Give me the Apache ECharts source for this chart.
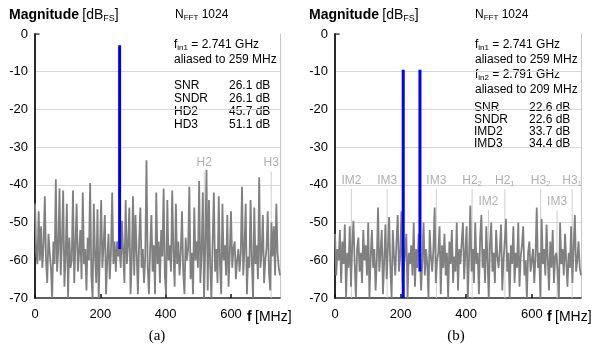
<!DOCTYPE html>
<html>
<head>
<meta charset="utf-8">
<script src="https://cdn.jsdelivr.net/npm/echarts@6/dist/echarts.min.js"></script>
<style>html,body{margin:0;padding:0;background:#fff}#c{width:598px;height:352px}</style>
</head>
<body>
<div id="c"></div>
<script>
// ---- data ----
const STEP = 3.75; // MHz between plotted spectrum points
const xTicks = [0, 200, 400, 600];
const yTicks = [0, -10, -20, -30, -40, -50, -60, -70];

const noiseA = [
-45,-58,-61,-47,-60,-51,-62,-56,-43,-60,
-66,-53,-58,-62,-70,-55,-61,-38.5,-63,-57,
-41,-64,-55,-41.5,-67,-59,-45,-70,-54,-62,
-60,-41.5,-66,-56,-45,-63,-58,-52,-65,-42,
-61,-57,-68,-54,-60,-39.5,-64,-70,-45,-59,
-66,-46.5,-70,-58,-44,-62,-56,-48,-69,-60,
-53,-65,-58,-42,-61,-55,-63,-55,-59,-57,
-62,-49.5,-58,-66,-44,-61,-56,-46,-69,-60,
-43,-64,-48,-58,-69,-55,-46,-62,-57,-66,
-59,-33.5,-62,-69,-57,-48,-63,-56,-69,-42,
-61,-55,-66,-52,-59,-41,-64,-69,-44,-60,
-56,-63,-41.5,-58,-67,-45,-61,-55,-64,-58,
-47,-63,-69,-54,-60,-57,-40.5,-65,-58,-69,
-46,-60,-55,-62,-39,-66,-58,-42,-70,-56,
-36,-68,-44,-61,-70,-55,-42,-63,-57,-66,
-43,-61,-69,-45,-60,-56,-64,-48,-67,-58,
-47,-62,-57,-55,-65,-60,-57,-63,-58,-40.5,
-64,-57,-45,-69,-59,-62,-44,-60,-70,-46,
-61,-56,-65,-38,-62,-58,-48,-66,-60,-57,
-47,-63,-68,-50,-59,-51,-64,-45,-58,-62,
-64];

const noiseB = [
-53,-64,-57,-60,-52,-66,-55,-61,-50.5,-70,
-58,-62,-51,-67,-56,-49.5,-61,-70,-57,-54,
-63,-58,-66,-52,-60,-56,-64,-50,-70,-59,
-52,-62,-57,-68,-60,-46,-63,-58,-52,-69,
-60,-50.5,-65,-57,-48.5,-62,-70,-52,-59,-64,
-55,-48,-63,-59,-47,-66,-62,-58,-53,-70,
-58,-61,-56,-64,-50,-67,-57,-62,-53,-59,
-68,-60,-50,-64,-57,-61,-70,-52,-59,-63,
-57,-46,-66,-60,-58,-51,-69,-56,-62,-53,
-64,-58,-70,-55,-61,-52,-66,-59,-63,-50,
-68,-57,-61,-55,-50,-65,-58,-51,-70,-59,
-45.5,-63,-57,-66,-50,-61,-58,-69,-54,-48,
-62,-57,-66,-51,-60,-70,-56,-50,-63,-58,
-66,-52,-59,-62,-57,-50.5,-68,-60,-55,-49,
-63,-58,-70,-56,-61,-51,-66,-58,-62,-50,
-67,-59,-56,-51,-64,-60,-70,-58,-55,-63,
-60,-57,-66,-59,-46,-62,-58,-70,-49,-61,
-57,-64,-50.5,-60,-68,-55,-62,-52,-66,-59,
-58,-63,-70,-50,-61,-57,-64,-53,-60,-67,
-58,-62,-51,-66,-57,-48,-63,-60,-55,-62,
-64];

// tones (aliased input frequencies)
const toneFreqA = [259];
const toneTopA = [-3];
const toneBotA = [-57];
const toneFreqB = [208, 259];
const toneTopB = [-9.5, -9.5];
const toneBotB = [-70, -63];

// spur markers
const markNameA = ['H2', 'H3'];
const markSubA = ['', ''];
const markFreqA = [518, 723];
const markLevelA = [-34.2, -34.2];

const markNameB = ['IM2', 'IM3', 'IM3', 'H2', 'H2', 'H3', 'H3', 'IM2', 'IM3'];
const markSubB = ['', '', '', '2', '1', '2', '1', '', ''];
const markFreqB = [50, 159, 309, 418, 518, 627, 723, 468, 677];
const markLevelB = [-38.8, -38.8, -38.8, -38.8, -38.8, -38.8, -38.8, -44.4, -44.4];

// ---- chart ----
const FONT = '"Liberation Sans", Arial, sans-serif';
const chart = echarts.init(document.getElementById('c'), null, {renderer: 'canvas'});

function xAxisFor(g) {
  return {
    type: 'value', gridIndex: g, min: 0, max: 750, interval: 200,
    axisLine: {onZero: false, lineStyle: {color: '#2a2a2a', width: 1.5}},
    axisTick: {inside: true, length: 4, lineStyle: {color: '#111', width: 1.5}},
    axisLabel: {color: '#000', fontSize: 13, fontFamily: FONT, margin: 10, showMaxLabel: false,
      formatter: v => xTicks.includes(v) ? String(v) : ''},
    splitLine: {show: false}
  };
}
function yAxisFor(g) {
  return {
    type: 'value', gridIndex: g, min: -70, max: 0, interval: 10,
    axisLine: {show: true, onZero: false, lineStyle: {color: '#2a2a2a', width: 2}},
    axisTick: {show: false},
    axisLabel: {color: '#000', fontSize: 13, fontFamily: FONT, margin: 7,
      formatter: v => yTicks.includes(v) ? String(v) : ''},
    splitLine: {show: true, showMinLine: false, showMaxLine: false, lineStyle: {color: '#d6d6d6', width: 1}}
  };
}
function borderAxis(g) {
  return {
    type: 'value', gridIndex: g, position: 'right', min: -70, max: 0,
    axisLine: {show: true, onZero: false, lineStyle: {color: '#c8c8c8', width: 1}},
    axisTick: {show: false}, axisLabel: {show: false}, splitLine: {show: false}
  };
}

const series = [];
function addPanel(g, noise, tf, tt, tb, mn, ms, mf, ml) {
  const xi = g, yi = g * 2;
  // marker lines (under the noise)
  mf.forEach((f, k) => {
    series.push({
      type: 'line', xAxisIndex: xi, yAxisIndex: yi, silent: true, symbol: 'none', z: 1,
      lineStyle: {color: '#cfcfcf', width: 1},
      data: [[f, ml[k] - 2.3], [f, -70]]
    });
  });
  // spectrum noise
  series.push({
    type: 'line', xAxisIndex: xi, yAxisIndex: yi, symbol: 'none', silent: true, z: 2,
    lineStyle: {color: '#808080', width: 1.8},
    data: noise.map((v, i) => [i * STEP, v])
  });
  // tones
  tf.forEach((f, k) => {
    series.push({
      type: 'line', xAxisIndex: xi, yAxisIndex: yi, symbol: 'none', silent: true, z: 3,
      lineStyle: {color: '#0000ff', width: 3},
      data: [[f, tb[k]], [f, tt[k]]]
    });
  });
  // top tick at 0 dB
  series.push({
    type: 'line', xAxisIndex: xi, yAxisIndex: yi, symbol: 'none', silent: true, z: 3,
    lineStyle: {color: '#2a2a2a', width: 1.5},
    data: [[0, 0], [14, 0]]
  });
  // marker labels
  series.push({
    type: 'scatter', xAxisIndex: xi, yAxisIndex: yi, silent: true, z: 4,
    symbolSize: 1, itemStyle: {color: 'rgba(0,0,0,0)'},
    data: mf.map((f, k) => ({value: [f, ml[k]]})),
    label: {
      show: true, position: 'inside',
      formatter: p => ms[p.dataIndex] ? '{n|' + mn[p.dataIndex] + '}{s|' + ms[p.dataIndex] + '}' : '{n|' + mn[p.dataIndex] + '}',
      rich: {
        n: {fontSize: 12, color: '#9a9a9a', fontFamily: FONT, lineHeight: 14},
        s: {fontSize: 8, color: '#9a9a9a', fontFamily: FONT, lineHeight: 6, verticalAlign: 'bottom'}
      }
    }
  });
}
addPanel(0, noiseA, toneFreqA, toneTopA, toneBotA, markNameA, markSubA, markFreqA, markLevelA);
addPanel(1, noiseB, toneFreqB, toneTopB, toneBotB, markNameB, markSubB, markFreqB, markLevelB);

const RICH = {
  b: {fontSize: 14, fontWeight: 'bold', color: '#000', fontFamily: FONT, lineHeight: 16},
  n: {fontSize: 14, color: '#000', fontFamily: FONT, lineHeight: 16},
  t: {fontSize: 12, color: '#000', fontFamily: FONT, lineHeight: 14},
  s: {fontSize: 8, color: '#000', fontFamily: FONT, lineHeight: 6, verticalAlign: 'bottom'},
  s9: {fontSize: 9, color: '#000', fontFamily: FONT, lineHeight: 7, verticalAlign: 'bottom'}
};
function txt(x, y, text, align) {
  return {type: 'text', x: x, y: y, silent: true,
    style: {text: text, rich: RICH, align: align || 'left', verticalAlign: 'middle'}};
}
const graphics = [];
function panelText(ox, lines, stats, statY) {
  graphics.push(txt(ox + 9, 15, '{b|Magnitude} {n|[dB}{s9|FS}{n|]}'));
  graphics.push(txt(ox + 175, 15, '{t|N}{s|FFT}{t| 1024}'));
  lines.forEach(l => graphics.push(txt(ox + l[0], l[1], l[2])));
  stats.forEach((s, k) => {
    graphics.push(txt(ox + 174, statY[k], '{t|' + s[0] + '}'));
    graphics.push(txt(ox + 229, statY[k], '{t|' + s[1] + '}'));
  });
  graphics.push(txt(ox + 247, 317, '{b|f} {n|[MHz]}'));
}
panelText(0, [
  [174, 45, '{t|f}{s|in1}{t| = 2.741 GHz}'],
  [174, 59.5, '{t|aliased to 259 MHz}']
], [['SNR', '26.1 dB'], ['SNDR', '26.1 dB'], ['HD2', '45.7 dB'], ['HD3', '51.1 dB']], [86, 99, 112, 125]);
panelText(300, [
  [175, 45, '{t|f}{s|in1}{t| = 2.741 GHz}'],
  [175, 60, '{t|aliased to 259 MHz}'],
  [175, 75, '{t|f}{s|in2}{t| = 2.791 GHz}'],
  [175, 90, '{t|aliased to 209 MHz}']
], [['SNR', '22.6 dB'], ['SNDR', '22.6 dB'], ['IMD2', '33.7 dB'], ['IMD3', '34.4 dB']], [108, 120, 132, 144]);
graphics.push({type: 'text', x: 157, y: 336, silent: true,
  style: {text: '(a)', font: '15px "Liberation Serif", "Times New Roman", serif', fill: '#000', align: 'center', verticalAlign: 'middle'}});
graphics.push({type: 'text', x: 456, y: 336, silent: true,
  style: {text: '(b)', font: '15px "Liberation Serif", "Times New Roman", serif', fill: '#000', align: 'center', verticalAlign: 'middle'}});

chart.setOption({
  animation: false,
  backgroundColor: '#fff',
  grid: [
    {left: 35, top: 34, width: 245, height: 264},
    {left: 335, top: 34, width: 246, height: 264}
  ],
  xAxis: [xAxisFor(0), xAxisFor(1)],
  yAxis: [yAxisFor(0), borderAxis(0), yAxisFor(1), borderAxis(1)],
  series: series,
  graphic: graphics
});
</script>
</body>
</html>
